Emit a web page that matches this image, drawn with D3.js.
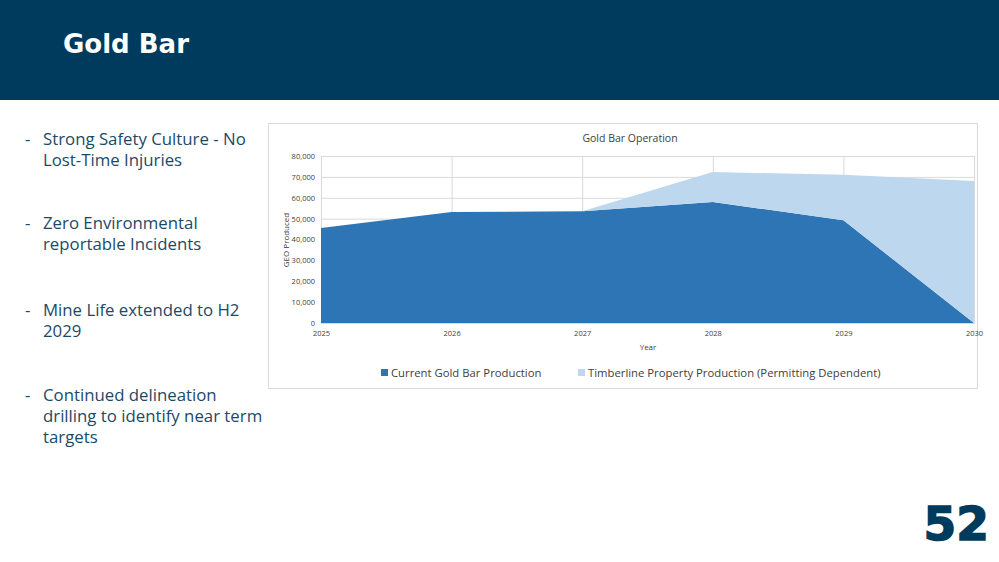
<!DOCTYPE html>
<html>
<head>
<meta charset="utf-8">
<script src="https://cdn.jsdelivr.net/npm/d3@7"></script>
<style>
  body { margin: 0; background: #fff; }
  svg { display: block; }
</style>
</head>
<body>
<svg width="999" height="562"></svg>
<script>
const years = [2025, 2026, 2027, 2028, 2029, 2030];
const currentProd = [45500, 53200, 53500, 58000, 49200, 0];
const timberlineProd = [0, 0, 0, 14300, 21800, 68000];
const seriesNames = ["Current Gold Bar Production", "Timberline Property Production (Permitting Dependent)"];
const seriesColors = ["#2e75b6", "#bdd7ee"];
const yTicks = [0, 10000, 20000, 30000, 40000, 50000, 60000, 70000, 80000];
const bullets = [
  ["Strong Safety Culture - No", "Lost-Time Injuries"],
  ["Zero Environmental", "reportable Incidents"],
  ["Mine Life extended to H2", "2029"],
  ["Continued delineation", "drilling to identify near term", "targets"]
];
const bulletTops = [145, 229, 316, 401];

const svg = d3.select("svg");

// header band
svg.append("rect").attr("x", 0).attr("y", 0).attr("width", 999).attr("height", 100).attr("fill", "#003a5c");
svg.append("text").attr("x", 63).attr("y", 53)
    .attr("font-family", "'DejaVu Sans', sans-serif").attr("font-weight", 700)
    .attr("font-size", 26).attr("fill", "#fff").text("Gold Bar");

// bullets
const bl = svg.append("g").attr("font-family", "'Open Sans', sans-serif")
    .attr("font-size", 16.8).attr("fill", "#1b4a66");
bullets.forEach((lines, i) => {
  bl.append("text").attr("x", 25).attr("y", bulletTops[i]).text("-");
  lines.forEach((l, j) => {
    bl.append("text").attr("x", 43).attr("y", bulletTops[i] + j * 21).text(l);
  });
});

// page number
svg.append("text").attr("x", 989).attr("y", 540).attr("text-anchor", "end")
    .attr("font-family", "'DejaVu Sans', sans-serif").attr("font-weight", 700)
    .attr("font-size", 47).attr("fill", "#003a5c").attr("stroke", "#003a5c").attr("stroke-width", 1.5)
    .text("52");

// chart frame
svg.append("rect").attr("x", 268.5).attr("y", 123.5).attr("width", 709).attr("height", 265)
    .attr("fill", "#fff").attr("stroke", "#d9d9d9");

const x = d3.scaleLinear().domain([2025, 2030]).range([321, 974]);
const y = d3.scaleLinear().domain([0, 80000]).range([323, 156]);

const chart = svg.append("g").attr("font-family", "'Open Sans', sans-serif");

// grid
chart.append("g").selectAll("line").data(yTicks).join("line")
    .attr("x1", x(2025)).attr("x2", x(2030))
    .attr("y1", d => y(d) + 0.5).attr("y2", d => y(d) + 0.5)
    .attr("stroke", "#d9d9d9");
chart.append("g").selectAll("line").data(years).join("line")
    .attr("x1", d => x(d) + 0.5).attr("x2", d => x(d) + 0.5)
    .attr("y1", y(80000)).attr("y2", y(0))
    .attr("stroke", "#d9d9d9");

// stacked areas
const rows = years.map((yr, i) => ({ year: yr, a: currentProd[i], b: timberlineProd[i] }));
const stacked = d3.stack().keys(["a", "b"])(rows);
const area = d3.area()
    .x(d => x(d.data.year))
    .y0(d => y(d[0]))
    .y1(d => y(d[1]));
chart.append("g").selectAll("path").data(stacked).join("path")
    .attr("d", area).attr("fill", (d, i) => seriesColors[i]);

// axes
const yAxis = d3.axisLeft(y).tickValues(yTicks).tickSize(0).tickPadding(6)
    .tickFormat(d3.format(","));
const gy = chart.append("g").attr("transform", `translate(${x(2025)},0)`).call(yAxis);
gy.select(".domain").remove();
gy.selectAll("text").attr("font-size", 7.5).attr("fill", "#404040").attr("font-family", "'Open Sans', sans-serif");

const xAxis = d3.axisBottom(x).tickValues(years).tickSize(0).tickPadding(8).tickFormat(d3.format("d"));
const gx = chart.append("g").attr("transform", `translate(0,${y(0)})`).call(xAxis);
gx.select(".domain").attr("stroke", "#d9d9d9");
gx.selectAll("text").attr("font-size", 7.5).attr("fill", "#404040").attr("font-family", "'Open Sans', sans-serif");

// titles
chart.append("text").attr("x", 630).attr("y", 142).attr("text-anchor", "middle")
    .attr("font-size", 10.5).attr("fill", "#404040").text("Gold Bar Operation");
chart.append("text").attr("x", 648).attr("y", 350).attr("text-anchor", "middle")
    .attr("font-size", 8).attr("fill", "#404040").text("Year");
chart.append("text").attr("transform", "translate(289,240) rotate(-90)").attr("text-anchor", "middle")
    .attr("font-size", 8).attr("fill", "#404040").text("GEO Produced");

// legend
const legendX = [381, 578];
const lg = chart.append("g").selectAll("g").data(seriesNames).join("g")
    .attr("transform", (d, i) => `translate(${legendX[i]},377)`);
lg.append("rect").attr("x", 0).attr("y", -8).attr("width", 7).attr("height", 7)
    .attr("fill", (d, i) => seriesColors[i]);
lg.append("text").attr("x", 10).attr("y", 0).attr("font-size", 11.3).attr("fill", "#404040").text(d => d);
</script>
</body>
</html>
